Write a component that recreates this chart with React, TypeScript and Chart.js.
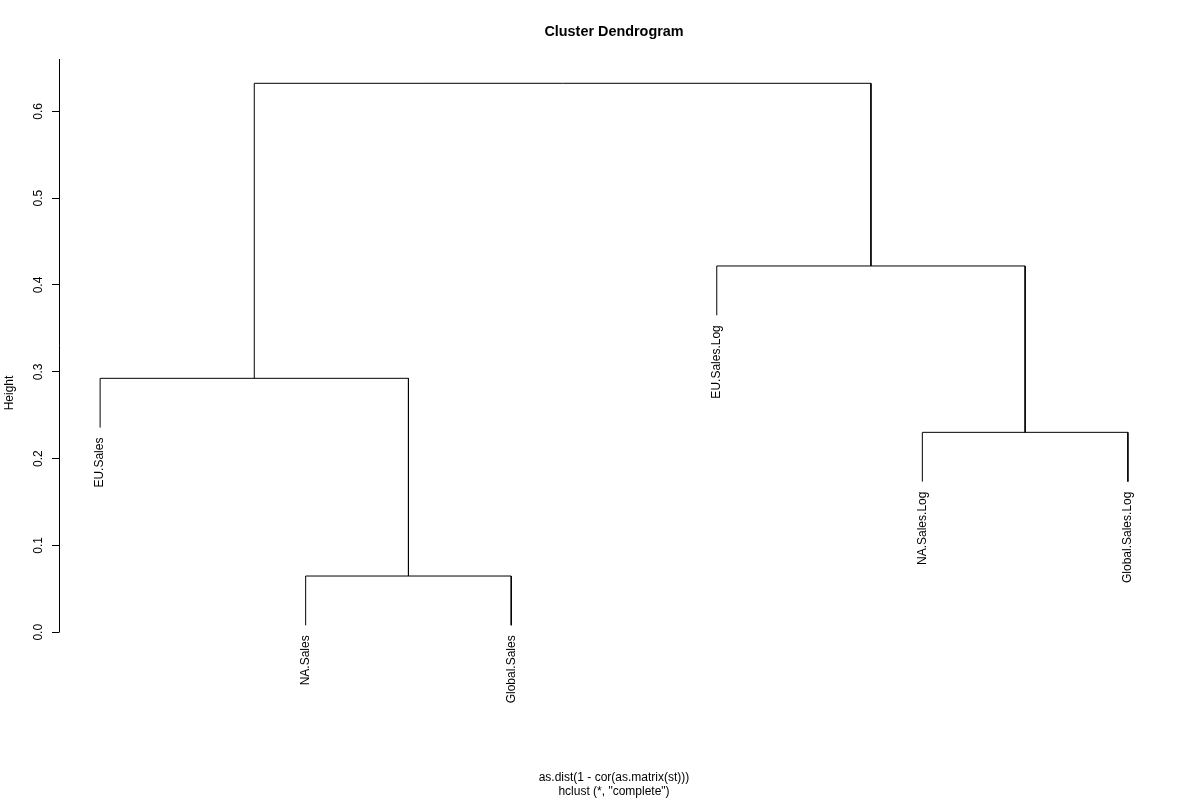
import React, { useEffect, useRef } from 'react';
import { Chart, registerables } from 'chart.js';

Chart.register(...registerables);

// Leaves, in plotted order (positions 1..6)
const leafLabels = ['EU.Sales', 'NA.Sales', 'Global.Sales', 'EU.Sales.Log', 'NA.Sales.Log', 'Global.Sales.Log'];
// hclust merge table: negative = leaf (1-based position), positive = earlier merge step
const mergeLeft = [-2, -5, -1, -4, 3];
const mergeRight = [-3, -6, 1, 2, 4];
const mergeHeight = [0.0648, 0.2303, 0.2925, 0.4219, 0.6323];
const yTicks = [0, 0.1, 0.2, 0.3, 0.4, 0.5, 0.6];
const titleText = 'Cluster Dendrogram';
const xTitleLines = ['as.dist(1 - cor(as.matrix(st)))', 'hclust (*, "complete")'];
const yTitleText = 'Height';
const hang = 0.1;

const FONT = '"Liberation Sans", Arial, Helvetica, sans-serif';

function buildDendrogram() {
  const hangAmt = hang * (Math.max(...mergeHeight) - Math.min(...mergeHeight));
  const nodeX: number[] = [];
  const leafY: number[] = new Array(leafLabels.length).fill(0);
  const segments: { x: number; y: number }[][] = [];
  const child = (c: number, h: number) => {
    if (c < 0) {
      const idx = -c - 1;
      leafY[idx] = h - hangAmt;
      return { x: -c, y: h - hangAmt };
    }
    return { x: nodeX[c - 1], y: mergeHeight[c - 1] };
  };
  for (let i = 0; i < mergeHeight.length; i++) {
    const h = mergeHeight[i];
    const l = child(mergeLeft[i], h);
    const r = child(mergeRight[i], h);
    nodeX[i] = (l.x + r.x) / 2;
    segments.push([
      { x: l.x, y: l.y },
      { x: l.x, y: h },
      { x: r.x, y: h },
      { x: r.x, y: r.y },
    ]);
  }
  return { segments, leafY };
}

export default function App() {
  const ref = useRef<HTMLCanvasElement | null>(null);

  useEffect(() => {
    if (!ref.current) return;
    const { segments, leafY } = buildDendrogram();

    const dendroPlugin = {
      id: 'dendroExtras',
      afterDatasetsDraw(chart: any) {
        const { ctx, chartArea } = chart;
        const xs = chart.scales.x;
        const ys = chart.scales.y;
        ctx.save();
        // y axis line (from 0 up to top of plot region)
        ctx.strokeStyle = '#000';
        ctx.lineWidth = 1;
        ctx.beginPath();
        const ax = Math.round(chartArea.left) + 0.5;
        ctx.moveTo(ax, Math.round(ys.getPixelForValue(0)) + 0.5);
        ctx.lineTo(ax, chartArea.top);
        ctx.stroke();
        // leaf labels
        ctx.fillStyle = '#000';
        ctx.font = `12px ${FONT}`;
        ctx.textAlign = 'right';
        ctx.textBaseline = 'middle';
        leafLabels.forEach((lab, i) => {
          const px = xs.getPixelForValue(i + 1);
          const py = ys.getPixelForValue(leafY[i]) + 10;
          ctx.save();
          ctx.translate(px, py);
          ctx.rotate(-Math.PI / 2);
          ctx.fillText(lab, 0, 0);
          ctx.restore();
        });
        ctx.restore();
      },
    };

    const chart = new Chart(ref.current, {
      type: 'scatter',
      data: {
        datasets: segments.map((seg) => ({
          data: seg,
          showLine: true,
          borderColor: '#000',
          borderWidth: 1,
          pointRadius: 0,
          pointHoverRadius: 0,
          fill: false,
          tension: 0,
          borderCapStyle: 'butt',
          borderJoinStyle: 'miter',
        })),
      },
      options: {
        animation: false,
        responsive: false,
        devicePixelRatio: 1,
        layout: { padding: { left: 0, right: 31, top: 0, bottom: 0 } },
        plugins: {
          legend: { display: false },
          tooltip: { enabled: false },
        },
        scales: {
          x: {
            type: 'linear',
            position: 'bottom',
            min: 0.8,
            max: 6.2,
            ticks: { display: false },
            grid: { display: false, drawTicks: false },
            border: { display: false },
            title: {
              display: true,
              text: xTitleLines,
              color: '#000',
              font: { family: FONT, size: 12, lineHeight: 1.2 },
              padding: { top: 0, bottom: 1 },
            },
            afterFit: (s: any) => {
              s.height = 73;
            },
          },
          x2: {
            type: 'linear',
            position: 'top',
            min: 0.8,
            max: 6.2,
            ticks: { display: false },
            grid: { display: false, drawTicks: false },
            border: { display: false },
            title: {
              display: true,
              text: titleText,
              color: '#000',
              font: { family: FONT, size: 14.4, weight: 'bold', lineHeight: 1.2 },
              padding: { top: 23, bottom: 0 },
            },
            afterFit: (s: any) => {
              s.height = 59;
            },
          },
          y: {
            type: 'linear',
            position: 'left',
            min: -0.1091,
            max: 0.6603,
            afterBuildTicks: (s: any) => {
              s.ticks = yTicks.map((v) => ({ value: v }));
            },
            ticks: {
              callback: (v: any) => Number(v).toFixed(1),
              minRotation: 90,
              maxRotation: 90,
              crossAlign: 'center',
              padding: 5,
              color: '#000',
              font: { family: FONT, size: 12 },
            },
            grid: {
              drawOnChartArea: false,
              drawTicks: true,
              tickLength: 7,
              color: '#000',
              lineWidth: 1,
            },
            border: { display: false },
            title: {
              display: true,
              text: yTitleText,
              color: '#000',
              font: { family: FONT, size: 12, lineHeight: 1.2 },
              padding: { top: 2, bottom: 0 },
            },
            afterFit: (s: any) => {
              s.width = 59;
            },
          },
        },
      } as any,
      plugins: [dendroPlugin],
    });
    return () => chart.destroy();
  }, []);

  return (
    <canvas
      ref={ref}
      width={1200}
      height={800}
      style={{ position: 'absolute', left: 0, top: 0, width: 1200, height: 800, background: '#fff' }}
    />
  );
}
